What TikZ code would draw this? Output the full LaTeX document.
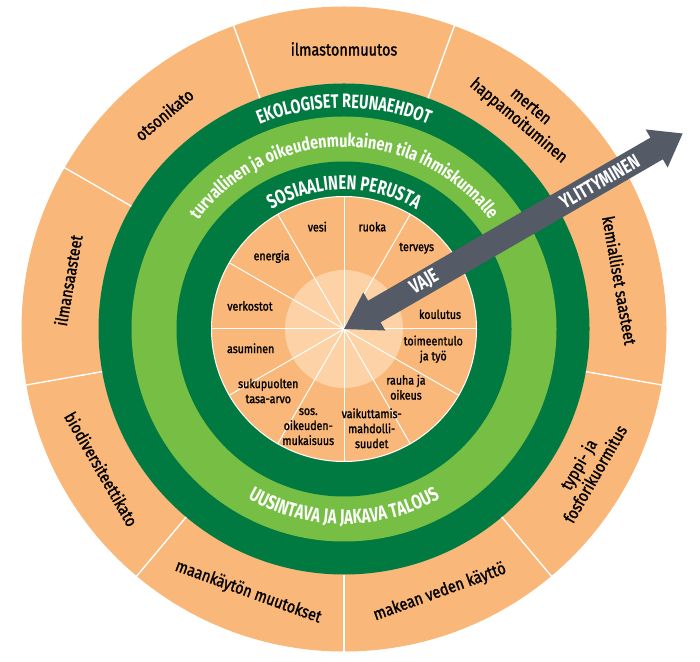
\documentclass[tikz,border=0pt]{standalone}
\usepackage{fontspec}
\setmainfont{Fira Sans}
\newfontfamily\labfont[FakeStretch=0.85,FakeBold=1.4]{Fira Sans}
\newfontfamily\headfont[FakeStretch=0.74]{Fira Sans}
\newfontfamily\midfont[FakeStretch=0.8]{Fira Sans}
\usetikzlibrary{decorations.text}
\definecolor{dorange}{HTML}{F9B779}
\definecolor{lorange}{HTML}{FCD2A6}
\definecolor{dgreen}{HTML}{007A40}
\definecolor{lgreen}{HTML}{76BF44}
\definecolor{agray}{HTML}{545B67}
\begin{document}
\begin{tikzpicture}[x=1pt,y=1pt,
  outerlab/.style={font=\labfont\fontsize{17}{19}\selectfont, align=center, inner sep=0pt, text=black},
  innerlab/.style={font=\labfont\fontsize{12.5}{15}\selectfont, align=center, inner sep=0pt, text=black},
  sepline/.style={draw=white, line width=1.4pt},
  segline/.style={draw=white, line width=1pt},
  ringtext/.style={decorate, decoration={text along path, text align=center, text color=white}},
  arrowlab/.style={font=\headfont\bfseries\fontsize{20}{20}\selectfont, text=white, inner sep=0pt, rotate=30}
]
\useasboundingbox (0,0) rectangle (700,661);
\begin{scope}[shift={(344,332)}]
\coordinate (C) at (0,0);
% rings
\fill[dorange] (C) circle (322.5pt);
\fill[dgreen] (C) circle (245.5pt);
\fill[lgreen] (C) circle (212.5pt);
\fill[dgreen] (C) circle (167.5pt);
\fill[dorange] (C) circle (132.5pt);
\fill[lorange] (C) circle (59pt);
\draw[segline] (C) circle (132.5pt);
% outer separators
\foreach \a in {110,70,...,-210} \draw[sepline] (\a:245.5pt) -- (\a:323pt);
% inner separators
\foreach \a in {0,30,...,330} \draw[segline] (C) -- (\a:132.5pt);
% outer labels
\node[outerlab] (o1) at (90:280pt) {ilmastonmuutos};
\node[outerlab, rotate=-40] (o2) at (50:280pt) {merten\\happamoituminen};
\node[outerlab, rotate=-80] (o3) at (10:280pt) {kemialliset saasteet};
\node[outerlab, rotate=60] (o4) at (-30:280pt) {typpi- ja\\fosforikuormitus};
\node[outerlab, rotate=20] (o5) at (-70:280pt) {makean veden käyttö};
\node[outerlab, rotate=-20] (o6) at (-110:280pt) {maankäytön muutokset};
\node[outerlab, rotate=-60] (o7) at (-150:280pt) {biodiversiteettikato};
\node[outerlab, rotate=80] (o8) at (170:280pt) {ilmansaasteet};
\node[outerlab, rotate=40] (o9) at (130:280pt) {otsonikato};
% ring texts
\path[ringtext, decoration={text={|\headfont\bfseries\fontsize{19.5}{19.5}\selectfont|EKOLOGISET REUNAEHDOT}}]
  (180:221pt) arc[start angle=180, end angle=0, radius=221pt];
\path[ringtext, decoration={text={|\midfont\bfseries\fontsize{18}{18}\selectfont|turvallinen ja oikeudenmukainen tila ihmiskunnalle}}]
  (180:182pt) arc[start angle=180, end angle=0, radius=182pt];
\path[ringtext, decoration={text={|\headfont\bfseries\fontsize{20}{20}\selectfont|SOSIAALINEN PERUSTA}}]
  (180:139.5pt) arc[start angle=180, end angle=0, radius=139.5pt];
\path[ringtext, decoration={text={|\headfont\bfseries\fontsize{20}{20}\selectfont|UUSINTAVA JA JAKAVA TALOUS}}]
  (180:195pt) arc[start angle=180, end angle=360, radius=195pt];
\end{scope}
% inner labels
\node[innerlab] (i1) at (317.3,434.3) {vesi};
\node[innerlab] (i2) at (372.3,434.3) {ruoka};
\node[innerlab] (i3) at (271.7,404.3) {energia};
\node[innerlab] (i4) at (416.7,412.7) {terveys};
\node[innerlab] (i5) at (250,355) {verkostot};
\node[innerlab] (i6) at (440,346.7) {koulutus};
\node[innerlab] (i7) at (433.3,311.7) {toimeentulo\\ja työ};
\node[innerlab] (i8) at (250.7,312.7) {asuminen};
\node[innerlab] (i9) at (268.3,270) {sukupuolten\\tasa-arvo};
\node[innerlab] (i10) at (406,273.7) {rauha ja\\oikeus};
\node[innerlab] (i11) at (308.3,234.3) {sos.\\oikeuden-\\mukaisuus};
\node[innerlab] (i12) at (371.7,232.7) {vaikuttamis-\\mahdolli-\\suudet};
% arrow
\begin{scope}[shift={(344,332)}, rotate=30]
\fill[agray] (0,0) -- (35,22) -- (35,12.5) -- (361,12.5) -- (361,22) -- (391,0)
  -- (361,-22) -- (361,-12.5) -- (35,-12.5) -- (35,-22) -- cycle;
\node[arrowlab] (vaje) at (93,0) {VAJE};
\node[arrowlab] (ylit) at (295,0) {YLITTYMINEN};
\end{scope}
\end{tikzpicture}
\end{document}
